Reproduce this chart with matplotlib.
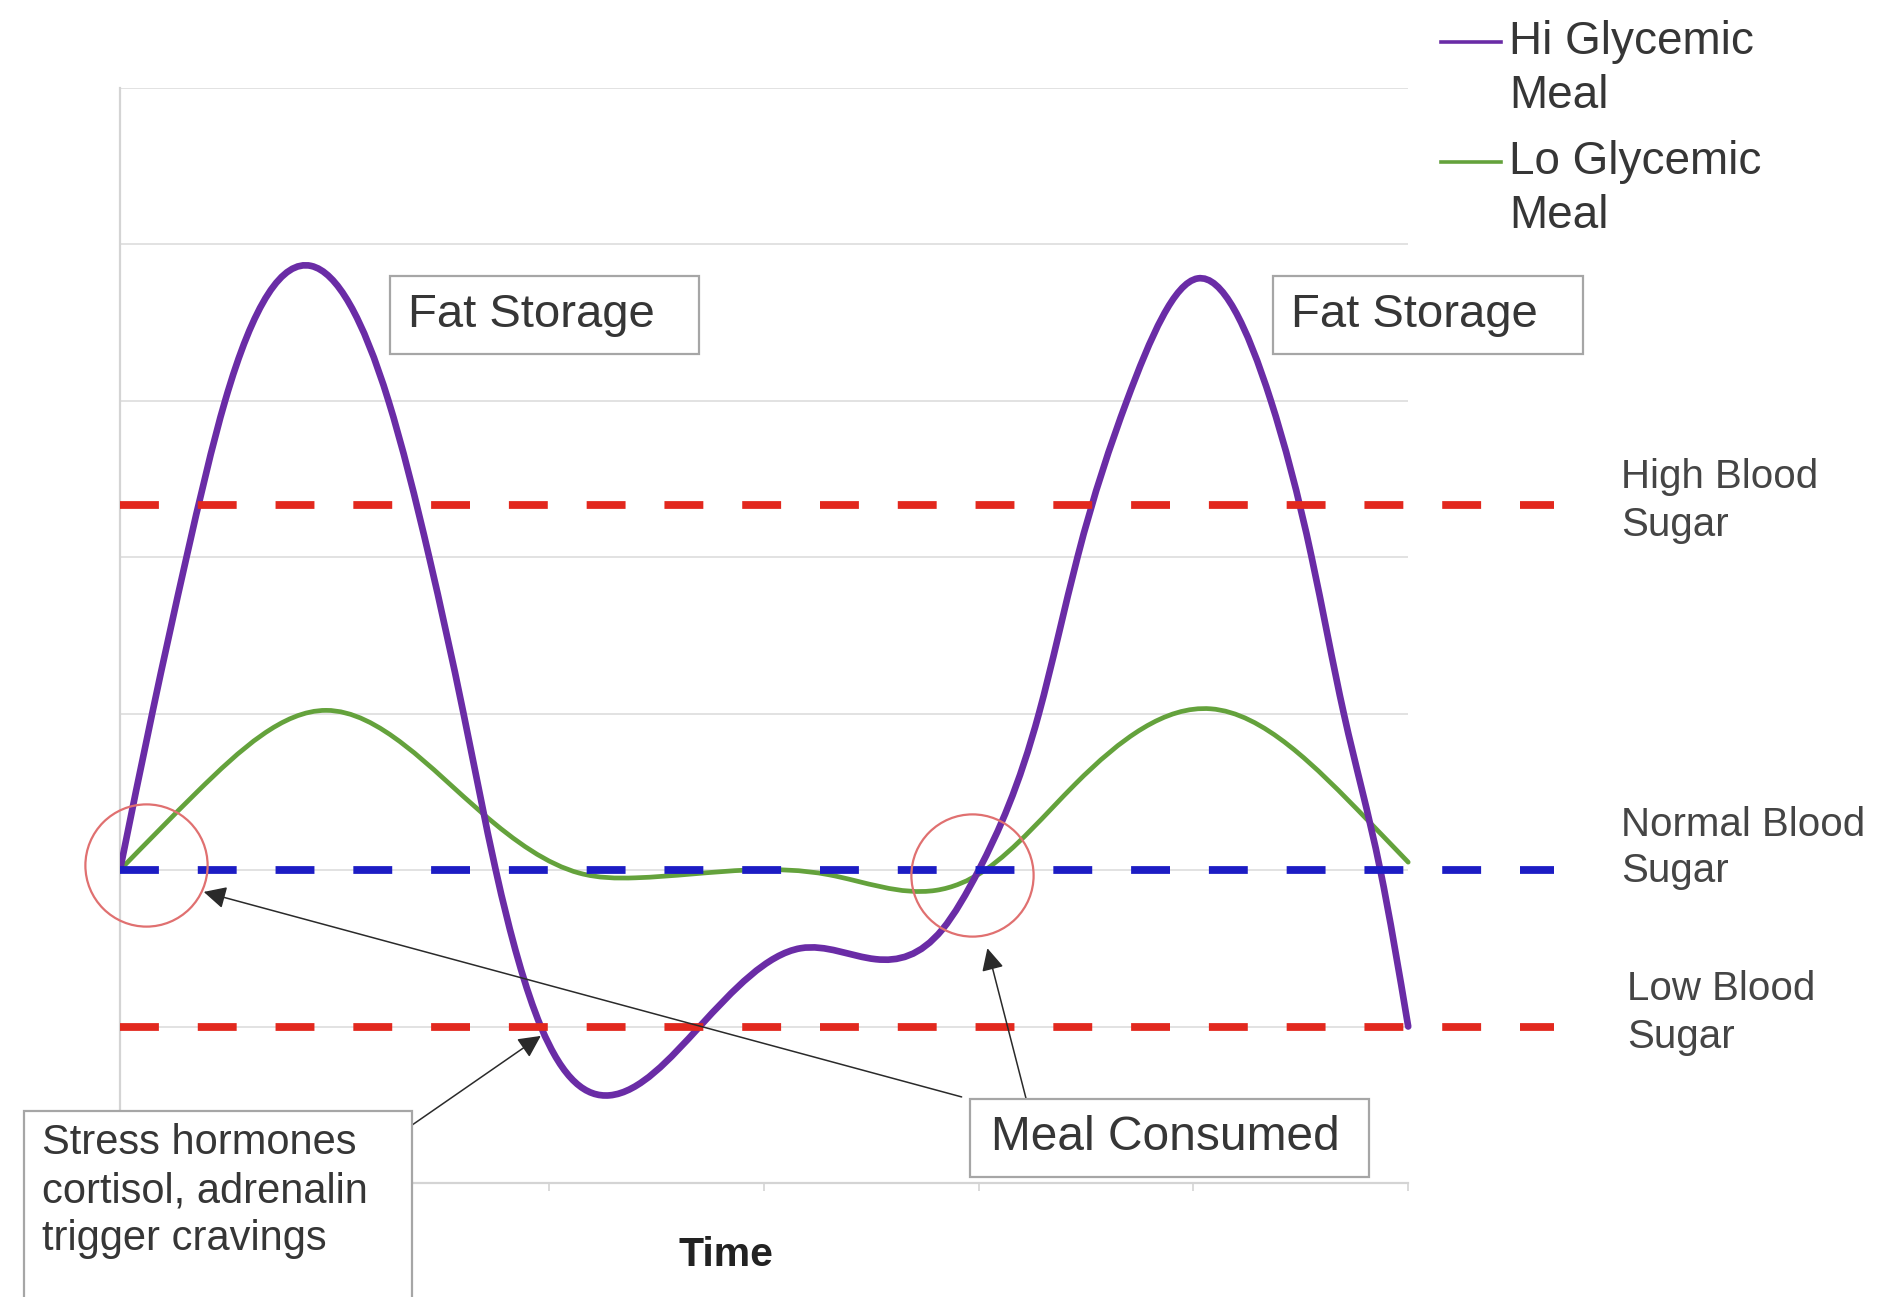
import numpy as np
import matplotlib
matplotlib.use("Agg")
import matplotlib.pyplot as plt
from matplotlib.path import Path
from matplotlib.patches import PathPatch, Rectangle
from matplotlib.lines import Line2D

plt.rcParams["font.family"] = ["Liberation Sans", "DejaVu Sans"]

W, H = 1883, 1297

# Hi glycemic meal: blood sugar where the curve crosses each level / turns
hi_x = [0.0, 0.15, 0.31, 0.49, 0.89, 1.25, 1.44, 1.60, 1.75, 1.96, 2.28, 2.70,
        3.17, 3.52, 3.83, 4.0, 4.28, 4.46, 4.69, 5.02, 5.36, 5.55, 5.70, 5.87, 6.0]
hi_y = [2.0, 3.0, 4.0, 5.0, 5.86, 5.0, 4.0, 3.0, 2.0, 1.0, 0.56, 1.0,
        1.50, 1.43, 1.62, 2.0, 3.0, 4.0, 5.0, 5.78, 5.0, 4.0, 3.0, 2.0, 1.0]

# Lo glycemic meal
lo_x = [0.0, 0.36, 0.96, 1.69, 2.14, 2.40, 2.93, 3.30, 3.80, 4.03, 4.45, 5.08, 5.81, 6.0]
lo_y = [2.0, 2.50, 3.02, 2.36, 1.98, 1.95, 2.0, 1.97, 1.87, 2.0, 2.55, 3.03, 2.32, 2.05]

high_level = 4.33
normal_level = 2.0
low_level = 1.0

PURPLE = "#6a2ca6"
GREEN = "#64a23c"
RED = "#e2281e"
BLUE = "#1c1cc4"
TXT = "#363636"
GRID = "#dadada"


def spline_slopes(x, y):
    # knot slopes of a natural cubic spline
    n = len(x)
    h = np.diff(x)
    d = np.diff(y) / h
    A = np.zeros((n, n)); r = np.zeros(n)
    A[0, 0] = A[-1, -1] = 1
    for i in range(1, n - 1):
        A[i, i - 1] = h[i - 1]; A[i, i] = 2 * (h[i - 1] + h[i]); A[i, i + 1] = h[i]
        r[i] = 6 * (d[i] - d[i - 1])
    M = np.linalg.solve(A, r)
    m = np.empty(n)
    m[:-1] = d - h * (2 * M[:-1] + M[1:]) / 6
    m[-1] = d[-1] + h[-1] * (M[-2] + 2 * M[-1]) / 6
    return m


def smooth_path(xs, ys):
    xs = np.asarray(xs, float); ys = np.asarray(ys, float)
    m = spline_slopes(xs, ys)
    verts = [(xs[0], ys[0])]
    codes = [Path.MOVETO]
    for i in range(len(xs) - 1):
        h = xs[i + 1] - xs[i]
        verts += [(xs[i] + h / 3, ys[i] + m[i] * h / 3),
                  (xs[i + 1] - h / 3, ys[i + 1] - m[i + 1] * h / 3),
                  (xs[i + 1], ys[i + 1])]
        codes += [Path.CURVE4] * 3
    return Path(verts, codes)


def fx(px): return px / W
def fy(py): return 1 - py / H


fig = plt.figure(figsize=(W / 100, H / 100), dpi=100)
ax = fig.add_axes([fx(120), fy(1183), 6.7 * 214.7 / W, 7 * 156.5 / H])
ax.set_xlim(0, 6.7); ax.set_ylim(0, 7)
for s in ["top", "right"]:
    ax.spines[s].set_visible(False)
ax.spines["left"].set_color("#d4d4d4"); ax.spines["left"].set_linewidth(1.6)
ax.spines["bottom"].set_color("#d4d4d4"); ax.spines["bottom"].set_linewidth(1.6)
ax.spines["bottom"].set_bounds(0, 6)
ax.set_xticks(range(7)); ax.set_xticklabels([])
ax.set_yticks([])
ax.tick_params(axis="x", color="#d4d4d4", length=6, width=1.2)
ax.hlines(range(1, 8), 0, 6, color=GRID, lw=1.1, zorder=1)

ax.add_patch(PathPatch(smooth_path(lo_x, lo_y), fill=False, ec=GREEN, lw=3.4,
                       capstyle="round", zorder=3))
ax.add_patch(PathPatch(smooth_path(hi_x, hi_y), fill=False, ec=PURPLE, lw=4.8,
                       capstyle="round", zorder=3))

for lvl, col in [(high_level, RED), (normal_level, BLUE), (low_level, RED)]:
    ax.plot([0, 6.68], [lvl, lvl], color=col, lw=5.6, ls=(0, (5.0, 5.0)),
            solid_capstyle="butt", zorder=4)

# meal markers
ax.plot([0.12, 3.97], [2.03, 1.97], "o", ms=88, mfc="none", mec="#e07070",
        mew=1.6, zorder=5, clip_on=False)

arrow = dict(arrowstyle="-|>", color="#2a2a2a", lw=1.1, mutation_scale=34,
             shrinkA=0, shrinkB=0)
ax.annotate("", xy=(0.39, 1.86), xytext=(3.92, 0.55), arrowprops=arrow,
            annotation_clip=False, zorder=6)
ax.annotate("", xy=(4.04, 1.50), xytext=(4.22, 0.54), arrowprops=arrow,
            annotation_clip=False, zorder=6)
ax.annotate("", xy=(1.96, 0.94), xytext=(1.36, 0.37), arrowprops=arrow,
            annotation_clip=False, zorder=6)


def text_box(x0, y0, x1, y1):
    fig.add_artist(Rectangle((fx(x0), fy(y1)), fx(x1) - fx(x0), fy(y0) - fy(y1),
                             transform=fig.transFigure, fc="white",
                             ec="#a6a6a6", lw=1.6, zorder=7))


text_box(390, 276, 699, 354)
fig.text(fx(408), fy(315), "Fat Storage", fontsize=34, color=TXT, va="center", zorder=8)
text_box(1273, 276, 1583, 354)
fig.text(fx(1291), fy(315), "Fat Storage", fontsize=34, color=TXT, va="center", zorder=8)
text_box(970, 1099, 1369, 1177)
fig.text(fx(991), fy(1137), "Meal Consumed", fontsize=34.5, color=TXT, va="center", zorder=8)
text_box(24, 1111, 412, 1310)
for i, line in enumerate(["Stress hormones", "cortisol, adrenalin", "trigger cravings"]):
    fig.text(fx(42), fy(1143 + 48 * i), line, fontsize=30, color=TXT,
             va="center", zorder=8)

fig.text(fx(726), fy(1255), "Time", fontsize=29.5, weight="bold", color="#222222",
         ha="center", va="center")

# level labels on the right
for label, x, yc in [("High Blood\nSugar", 1621, 501),
                     ("Normal Blood\nSugar", 1621, 848),
                     ("Low Blood\nSugar", 1627, 1013)]:
    fig.text(fx(x), fy(yc), label, fontsize=29, color="#454545", va="center",
             linespacing=1.3)

# legend
for col, lbl, y in [(PURPLE, "Hi Glycemic\nMeal", 42), (GREEN, "Lo Glycemic\nMeal", 162)]:
    fig.add_artist(Line2D([fx(1441), fx(1501)], [fy(y), fy(y)], color=col,
                          lw=2.6, transform=fig.transFigure))
    fig.text(fx(1509), fy(y - 22), lbl, fontsize=33, color=TXT, va="top",
             linespacing=1.3)

fig.savefig("out.png", dpi=100, facecolor="white")
